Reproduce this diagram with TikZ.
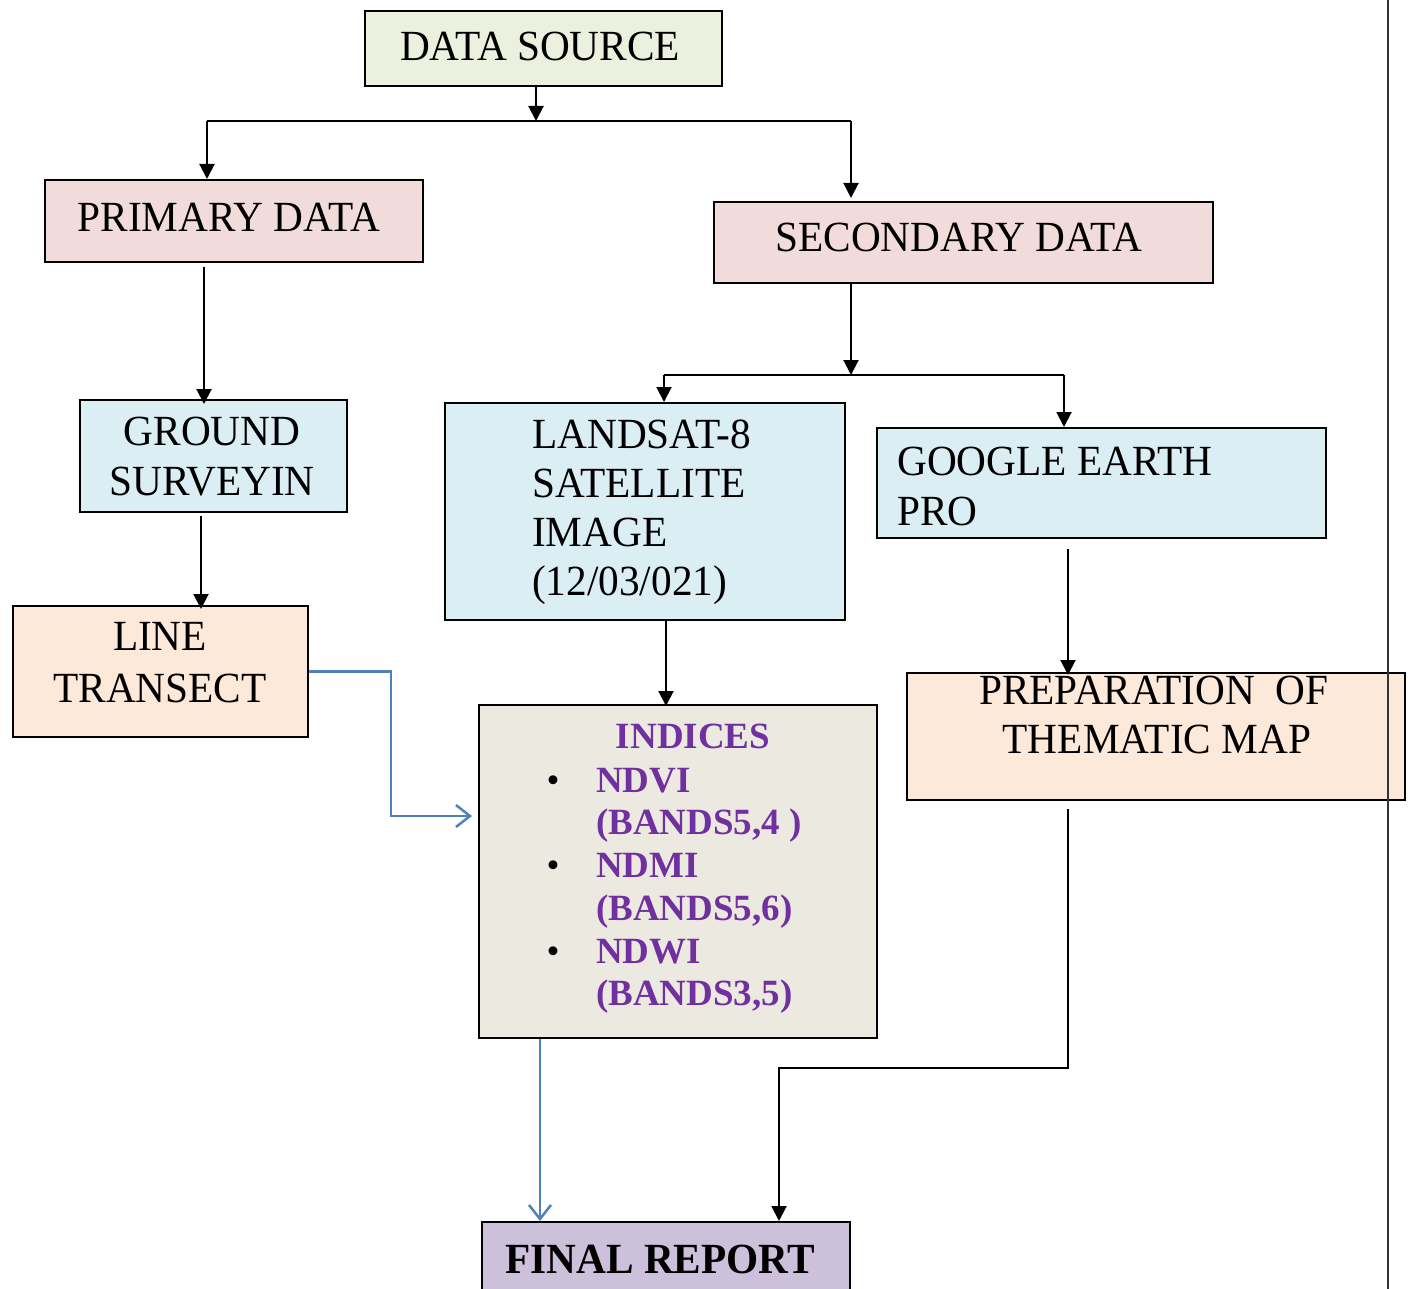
\documentclass[tikz,border=0pt]{standalone}
\usepackage{fontspec}
\setmainfont{Liberation Serif}
\newfontfamily\bodyfont{Liberation Serif}[FakeStretch=0.96]
\usetikzlibrary{arrows.meta,calc}
\definecolor{dsfill}{HTML}{EBF1DE}
\definecolor{pinkfill}{HTML}{F2DCDB}
\definecolor{bluefill}{HTML}{DBEEF4}
\definecolor{peachfill}{HTML}{FDE9D9}
\definecolor{indfill}{HTML}{ECEAE0}
\definecolor{finfill}{HTML}{CCC0DA}
\definecolor{purp}{HTML}{7030A0}
\definecolor{bluel}{HTML}{4F81BD}
\begin{document}
\begin{tikzpicture}[x=1pt,y=-1pt,
  box/.style={draw=black, line width=2pt, inner sep=0pt, anchor=north west},
  lbl/.style={anchor=base, inner sep=0pt, font=\bodyfont\fontsize{43}{49}\selectfont},
  lbll/.style={anchor=base west, inner sep=0pt, font=\bodyfont\fontsize{43}{49}\selectfont},
  ptxt/.style={anchor=base west, inner sep=0pt, text=purp, font=\fontsize{37}{43}\selectfont\bfseries},
  bul/.style={anchor=base, inner sep=0pt, font=\fontsize{37}{43}\selectfont},
  conn/.style={line width=2pt, draw=black},
  arr/.style={conn, -{Triangle[length=15pt,width=15pt]}},
  barr/.style={line width=2.5pt, draw=bluel, -{Straight Barb[length=14pt,width=22pt]}}]
\useasboundingbox (0,0) rectangle (1411,1289);

% boxes
\node[box, fill=dsfill, minimum width=357pt, minimum height=75pt] (ds) at (364,10) {};
\node[box, fill=pinkfill, minimum width=378pt, minimum height=82pt] (prim) at (44,179) {};
\node[box, fill=pinkfill, minimum width=499pt, minimum height=81pt] (sec) at (713,201) {};
\node[box, fill=bluefill, minimum width=267pt, minimum height=112pt] (gs) at (79,399) {};
\node[box, fill=peachfill, minimum width=295pt, minimum height=131pt] (lt) at (12,605) {};
\node[box, fill=bluefill, minimum width=400pt, minimum height=217pt] (ls) at (444,402) {};
\node[box, fill=bluefill, minimum width=449pt, minimum height=110pt] (ge) at (876,427) {};
\node[box, fill=peachfill, minimum width=498pt, minimum height=127pt] (pm) at (906,672) {};
\node[box, fill=indfill, minimum width=398pt, minimum height=333pt] (ind) at (478,704) {};
\node[box, fill=finfill, minimum width=368pt, minimum height=100pt] (fr) at (481,1221) {};

% texts
\node[lbl] (tds) at (540,61) {DATA SOURCE};
\node[lbl] (tprim) at (229,232) {PRIMARY DATA};
\node[lbl] (tsec) at (959,252) {SECONDARY DATA};
\node[lbl] (tgs1) at (212,445) {GROUND};
\node[lbl] (tgs2) at (212,495) {SURVEYIN};
\node[lbl] (tlt1) at (160,650) {LINE};
\node[lbl] (tlt2) at (160,702) {TRANSECT};
\node[lbll] (tls1) at (532,448) {LANDSAT-8};
\node[lbll] (tls2) at (532,497) {SATELLITE};
\node[lbll] (tls3) at (532,546) {IMAGE};
\node[lbll] (tls4) at (532,595) {(12/03/021)};
\node[lbll] (tge1) at (897,475) {GOOGLE EARTH};
\node[lbll] (tge2) at (897,525) {PRO};
\node[lbl] (tpm1) at (1154,704) {PREPARATION~~OF};
\node[lbl] (tpm2) at (1157,753) {THEMATIC MAP};
\node[anchor=base, inner sep=0pt, text=purp, font=\fontsize{37}{43}\selectfont\bfseries] (tind) at (693,748) {INDICES};
\node[bul] (b1) at (553,792) {•};
\node[ptxt] (ti1) at (596,792) {NDVI};
\node[ptxt] (ti2) at (596,834) {(BANDS5,4 )};
\node[bul] (b2) at (553,877) {•};
\node[ptxt] (ti3) at (596,877) {NDMI};
\node[ptxt] (ti4) at (596,920) {(BANDS5,6)};
\node[bul] (b3) at (553,963) {•};
\node[ptxt] (ti5) at (596,963) {NDWI};
\node[ptxt] (ti6) at (596,1005) {(BANDS3,5)};
\node[anchor=base, inner sep=0pt, font=\bodyfont\fontsize{43}{49}\selectfont\bfseries] (tfr) at (660,1273) {FINAL REPORT};

% junction coordinates
\coordinate (j1) at (536,121);
\coordinate (jl) at (207,121);
\coordinate (jr) at (851,121);
\coordinate (k) at (851,375);
\coordinate (kl) at (664,375);
\coordinate (kr) at (1064,375);
\coordinate (m) at (779,1068);
\coordinate (bb1) at (391,816);
\coordinate (bb2) at (540,1100);
\coordinate (v1) at (1388,0);
\coordinate (v2) at (1388,1289);

% connectors
\draw[arr] (ds.south -| j1) -- (j1);
\draw[conn] (jl) -- (jr);
\draw[arr] (jl) -- (jl |- prim.north);
\draw[arr] (jr) -- ([yshift=3pt]jr |- sec.north);
\draw[arr] ($(prim.south west)+(160,4)$) -- ($(gs.north west)+(125,5)$);
\draw[arr] (sec.south -| k) -- (k);
\draw[conn] (kl) -- (kr);
\draw[arr] (kl) -- (kl |- ls.north);
\draw[arr] (kr) -- (kr |- ge.north);
\draw[arr] ($(gs.south west)+(122,3)$) -- ($(lt.north west)+(189,4)$);
\draw[arr] ($(ls.south west)+(222,-2)$) -- ($(ind.north west)+(188,2)$);
\draw[arr] ($(ge.south west)+(192,10)$) -- ($(pm.north west)+(162,3)$);
\draw[arr] ($(pm.south west)+(162,8)$) |- (m) -- (m |- fr.north);
\draw[barr, shorten >=6pt] (lt.east) -| (bb1) -- (bb1 -| ind.west);
\draw[barr] (ind.south -| bb2) -- (fr.north -| bb2);
\draw[line width=1.5pt, draw=black!80] (v1) -- (v2);
\end{tikzpicture}
\end{document}
